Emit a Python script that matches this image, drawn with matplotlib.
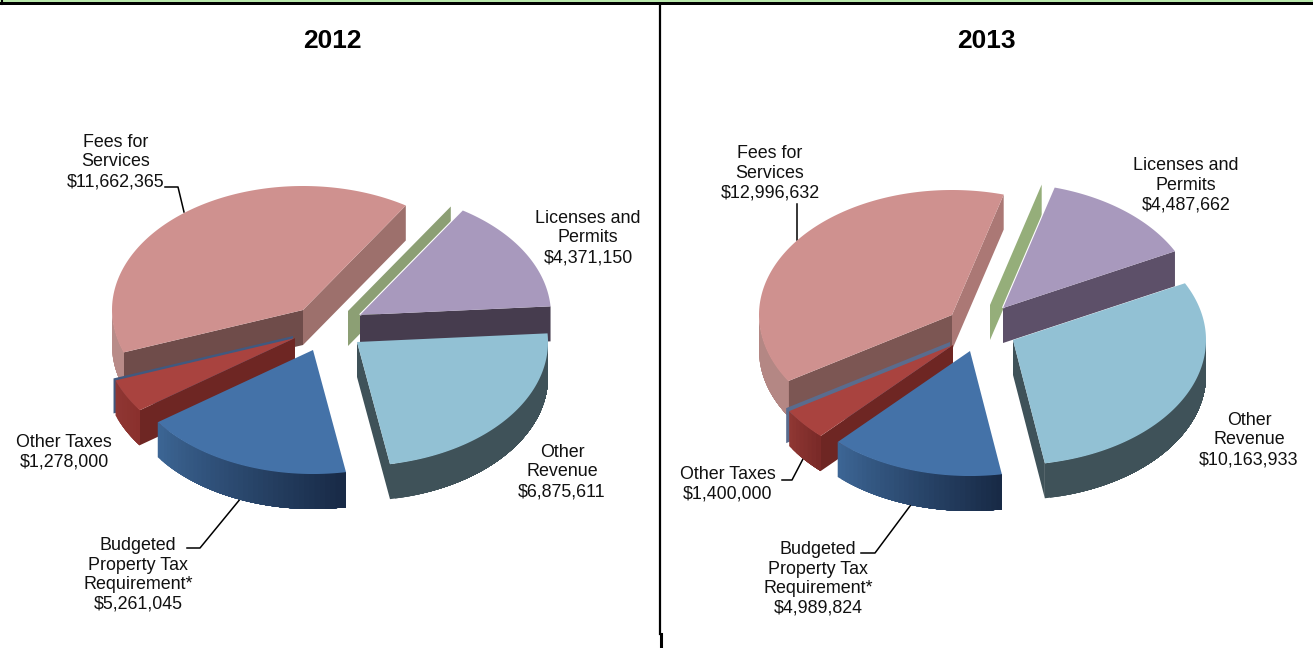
import numpy as np
import matplotlib
matplotlib.use('Agg')
import matplotlib.pyplot as plt
from matplotlib.colors import to_rgb

plt.rcParams['font.family'] = ['Liberation Sans', 'DejaVu Sans']

# the two unlabeled zero slices only show up as thin walls in the original
names = ['Licenses and\nPermits', '', 'Fees for\nServices', '', 'Other Taxes',
         'Budgeted\nProperty Tax\nRequirement*', 'Other\nRevenue']
values_2012 = [4371150, 0, 11662365, 0, 1278000, 5261045, 6875611]
values_2013 = [4487662, 0, 12996632, 0, 1400000, 4989824, 10163933]
years = ['2012', '2013']

# drawing order, back to front
order = [2, 3, 4, 5, 1, 0, 6]

# top face, start wall, end wall, outer wall left, outer wall right
colors_2012 = [
    ('#a899bd', '#463c4e', '#463c4e', '#463c4e', '#463c4e'),
    ('#8c9f74', '#8c9f74', '#8c9f74', '#8c9f74', '#8c9f74'),
    ('#cf918f', '#9d706c', '#6f4c4a', '#b88b88', '#b88b88'),
    ('#41597f', '#41597f', '#41597f', '#41597f', '#41597f'),
    ('#a9433f', '#6e2623', '#6e2623', '#8f3733', '#8a302d'),
    ('#4472a8', '#1a2c48', '#1a2c48', '#3c6594', '#182a46'),
    ('#92c1d4', '#3f5259', '#3f5259', '#3f5259', '#3f5259'),
]
colors_2013 = [
    ('#a899bd', '#5d5069', '#5d5069', '#5d5069', '#5d5069'),
    ('#95ae7a', '#95ae7a', '#95ae7a', '#95ae7a', '#95ae7a'),
    ('#cf918f', '#ab7875', '#7c5653', '#b48784', '#b48784'),
    ('#5a6c8e', '#5a6c8e', '#5a6c8e', '#5a6c8e', '#5a6c8e'),
    ('#a9433f', '#6e2623', '#6e2623', '#8f3733', '#7a2a28'),
    ('#4472a8', '#1a2c48', '#1a2c48', '#3c6594', '#182a46'),
    ('#92c1d4', '#3f5259', '#3f5259', '#3f5259', '#3f5259'),
]

DEPTH = 35


def point(apex, rx, ry, t):
    return apex[0] + rx * np.cos(np.radians(t)), apex[1] - ry * np.sin(np.radians(t))


def quad(ax, pts, color, z):
    ax.fill(*zip(*pts), color=color, lw=0, zorder=z)


# one slice of the fake 3d pie, walls first and then the top
def draw_slice(ax, apex, rx, ry, t1, t2, style, z, halo=False):
    top, wall1, wall2, outer1, outer2 = style
    down = np.array([0, DEPTH])

    # start wall faces us when its normal (t1 - 90) points down the screen
    p1 = np.array(point(apex, rx, ry, t1))
    p2 = np.array(point(apex, rx, ry, t2))
    a = np.array(apex)
    if t1 == t2 or np.sin(np.radians(t1 - 90)) < 0:
        quad(ax, [a, p1, p1 + down, a + down], wall1, z)
    if t2 > t1 and np.sin(np.radians(t2 + 90)) < 0:
        quad(ax, [a, p2, p2 + down, a + down], wall2, z)

    # outer wall, only the front half of the ellipse, strips overlap so no seams show
    lo, hi = max(t1, 180), min(t2, 360)
    if hi > lo:
        ts = np.linspace(lo, hi, max(4, int((hi - lo) / 1.5)))
        c1, c2 = np.array(to_rgb(outer1)), np.array(to_rgb(outer2))
        for i in range(len(ts) - 1):
            f = i / (len(ts) - 2)
            # run each strip to the far end, the next one paints over it
            xs, ys = point(apex, rx, ry, np.linspace(ts[i], hi, 40))
            ax.fill(np.r_[xs, xs[::-1]], np.r_[ys, ys[::-1] + DEPTH],
                    color=c1 + (c2 - c1) * f, lw=0, zorder=z + 0.1)

    if t2 > t1:
        ts = np.linspace(t1, t2, 120)
        xs, ys = point(apex, rx, ry, ts)
        ax.fill(np.r_[apex[0], xs], np.r_[apex[1], ys], color=top, lw=0, zorder=z + 0.2)
        if halo:
            ax.plot([apex[0], p2[0]], [apex[1], p2[1]], color='white', lw=1.6,
                    solid_capstyle='butt', zorder=z + 0.15)


def draw_pie(ax, values, start, apexes, rx, ry, colors):
    sweeps = np.array(values) / sum(values) * 360
    edges = start + np.r_[0, np.cumsum(sweeps)]
    for n, i in enumerate(order):
        draw_slice(ax, apexes[i], rx, ry, edges[i], edges[i + 1], colors[i], 2 + n, halo=(i == 0))


fig = plt.figure(figsize=(13.13, 6.48), dpi=100)
ax = fig.add_axes([0, 0, 1, 1])
ax.set_xlim(0, 1313)
ax.set_ylim(648, 0)
ax.axis('off')

# frame bits at the top and the divider
ax.fill_between([0, 1313], 0, 2, color='#b9e8ac', lw=0, zorder=1)
ax.fill_between([0, 1313], 2, 5, color='black', lw=0, zorder=1)
ax.plot([1.5, 1.5], [0, 4], color='black', lw=1.5, zorder=1)
ax.plot([660, 660], [4, 634], color='black', lw=1.6, zorder=1)
ax.plot([660.5, 660.5], [634, 648], color='black', lw=2.2, zorder=1)

draw_pie(ax, values_2012, 4,
         [(360, 315), (348, 311), (303, 310), (293, 336), (295, 338), (313, 350), (357, 342)],
         191, 124, colors_2012)
draw_pie(ax, values_2013, 27,
         [(1003, 308), (990, 305), (952, 315), (950, 342), (953, 345), (970, 351), (1013, 340)],
         193, 125, colors_2013)

ax.text(332.5, 41.5, years[0], ha='center', va='center', fontsize=19, fontweight='bold')
ax.text(986.5, 41.5, years[1], ha='center', va='center', fontsize=19, fontweight='bold')


def label(i, values, x, y):
    ax.text(x, y, f'{names[i]}\n${values[i]:,}', ha='center', va='center', fontsize=12.9,
            linespacing=1.2, color='#111111', zorder=20)


for i, x, y in [(2, 116, 162), (0, 588, 238), (6, 562, 472), (4, 64, 452), (5, 138, 575)]:
    label(i, values_2012, x, y)
for i, x, y in [(2, 770, 173), (0, 1186, 185), (6, 1249, 440), (4, 728, 484), (5, 818, 579)]:
    label(i, values_2013, x, y)

# leader lines
leaders = [
    ([165, 178, 184], [187, 187, 212]),
    ([187, 200, 241], [548, 548, 498]),
    ([797, 797], [204, 240]),
    ([782, 792, 804], [480, 480, 457]),
    ([861, 875, 916], [553, 553, 498]),
]
for xs, ys in leaders:
    ax.plot(xs, ys, color='black', lw=1.1, zorder=1.5)

fig.savefig('out.png', dpi=100)
